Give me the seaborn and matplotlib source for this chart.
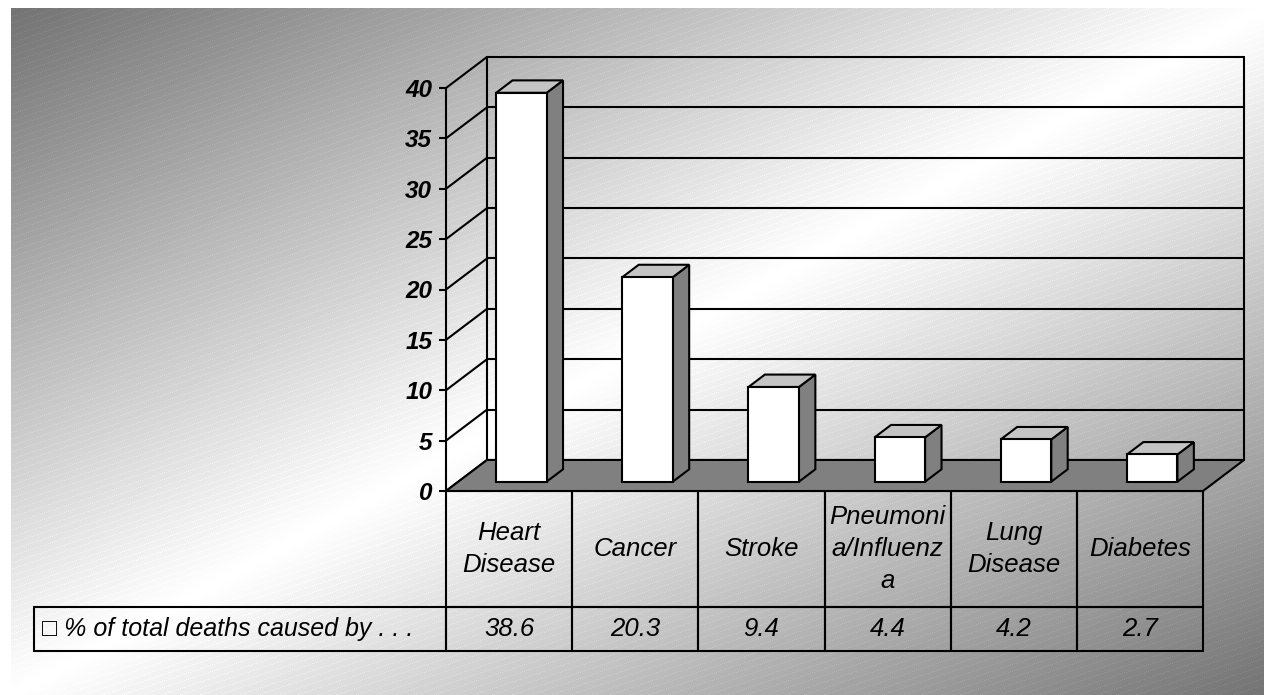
import numpy as np
import pandas as pd
import seaborn as sns
import matplotlib.pyplot as plt
from matplotlib.patches import Polygon, Rectangle

# data
categories = ["Heart Disease", "Cancer", "Stroke", "Pneumonia/Influenza", "Lung Disease", "Diabetes"]
header_labels = ["Heart\nDisease", "Cancer", "Stroke", "Pneumoni\na/Influenz\na", "Lung\nDisease", "Diabetes"]
values = [38.6, 20.3, 9.4, 4.4, 4.2, 2.7]
series_name = "% of total deaths caused by . . ."
y_ticks = [0, 5, 10, 15, 20, 25, 30, 35, 40]

sns.set_style("white")
plt.rcParams["font.family"] = ["Liberation Sans", "DejaVu Sans"]
plt.rcParams["text.color"] = "black"

W, H = 1264, 695
fig = plt.figure(figsize=(W / 100, H / 100), dpi=100)

# background: diagonal grey gradient with faint stripes
bg = fig.add_axes([0, 0, 1, 1])
yy, xx = np.mgrid[0:H, 0:W].astype(float)
t = ((xx - 11) / (W - 11) + (yy - 8) / (H - 8)) / 2
shade = 255 - 140 * np.abs(2 * t - 1)
stripe = ((yy + xx / 3) % 6.5 < 1) & (xx.astype(int) % 2 == 0)
shade = np.where(stripe, np.minimum(shade + 12, 255), shade)
shade[(xx < 11) | (yy < 8)] = 255
bg.imshow(shade, cmap="gray", vmin=0, vmax=255, extent=(0, W, H, 0),
          interpolation="nearest", aspect="auto")
bg.set_axis_off()

# main axes = front plane of the 3D box
ax = fig.add_axes([446 / W, 1 - 491 / H, (1203 - 446) / W, (491 - 88) / H])
ax.patch.set_alpha(0)

df = pd.DataFrame({"cause": categories, "pct": values})
sns.barplot(data=df, x="cause", y="pct", color="white", saturation=1, width=0.4,
            edgecolor="black", linewidth=1.5, errorbar=None, ax=ax, zorder=5)

n = len(categories)
ax.set_xlim(-0.5, n - 0.5)
ax.set_ylim(0, 40)

# depth offset of the box (in data units)
DX, DY = 0.325, 3.08
D0, D1 = 0.3, 0.7


def P(x, y, d):
    return (x + d * DX, y + d * DY)


lw = 1.5
# back wall and side wall lines
for v in y_ticks:
    ax.plot([P(-0.5, v, 1)[0], P(n - 0.5, v, 1)[0]], [v + DY, v + DY],
            color="black", lw=lw, zorder=1, clip_on=False)
    ax.plot([-0.5, -0.5 + DX], [v, v + DY], color="black", lw=lw, zorder=1, clip_on=False)
for xe in [-0.5, n - 0.5]:
    ax.plot([xe + DX, xe + DX], [DY, 40 + DY], color="black", lw=lw, zorder=1, clip_on=False)

# floor
floor = Polygon([P(-0.5, 0, 0), P(n - 0.5, 0, 0), P(n - 0.5, 0, 1), P(-0.5, 0, 1)],
                fc="#808080", ec="black", lw=lw, zorder=2, clip_on=False)
ax.add_patch(floor)

# 3D bars: shift front faces back, add side and top faces
for bar in list(ax.patches):
    if bar is floor:
        continue
    x0, w, v = bar.get_x(), bar.get_width(), bar.get_height()
    bar.set_x(x0 + D0 * DX)
    bar.set_y(D0 * DY)
    bar.set_clip_on(False)
    side = Polygon([P(x0 + w, 0, D0), P(x0 + w, 0, D1), P(x0 + w, v, D1), P(x0 + w, v, D0)],
                   fc="#808080", ec="black", lw=lw, zorder=4, clip_on=False)
    top = Polygon([P(x0, v, D0), P(x0 + w, v, D0), P(x0 + w, v, D1), P(x0, v, D1)],
                  fc="#c4c4c4", ec="black", lw=lw, zorder=4, clip_on=False)
    ax.add_patch(side)
    ax.add_patch(top)

# axes styling
ax.set_xticks([])
ax.set_xlabel("")
ax.set_ylabel("")
ax.set_yticks(y_ticks)
ax.set_yticklabels([str(v) for v in y_ticks], fontsize=17.5, fontweight="bold", fontstyle="italic")
ax.tick_params(axis="y", left=True, length=5, width=lw, color="black", labelcolor="black", pad=5)
for s in ["top", "right", "bottom"]:
    ax.spines[s].set_visible(False)
ax.spines["left"].set_color("black")
ax.spines["left"].set_linewidth(lw)
ax.spines["left"].set_zorder(6)

# data table under the chart, in axes fractions
head_h = 116 / 403
val_h = 44 / 403
lab_x0 = (34 - 446) / 757
for i, (lab, v) in enumerate(zip(header_labels, values)):
    x0 = i / n
    ax.add_patch(Rectangle((x0, -head_h), 1 / n, head_h, transform=ax.transAxes,
                           fc="none", ec="black", lw=lw, clip_on=False))
    ax.add_patch(Rectangle((x0, -head_h - val_h), 1 / n, val_h, transform=ax.transAxes,
                           fc="none", ec="black", lw=lw, clip_on=False))
    ax.text(x0 + 0.5 / n, -head_h / 2, lab, transform=ax.transAxes, ha="center", va="center",
            fontsize=18.5, fontstyle="italic", linespacing=1.4)
    ax.text(x0 + 0.5 / n, -head_h - val_h / 2, f"{v:.1f}", transform=ax.transAxes,
            ha="center", va="center", fontsize=18.5, fontstyle="italic")
ax.add_patch(Rectangle((lab_x0, -head_h - val_h), -lab_x0, val_h, transform=ax.transAxes,
                       fc="none", ec="black", lw=lw, clip_on=False))
ax.text(lab_x0 + 8 / 757, -head_h - val_h / 2, "\u25a1 " + series_name, transform=ax.transAxes,
        ha="left", va="center", fontsize=18, fontstyle="italic")

fig.savefig("out.png", dpi=100)
